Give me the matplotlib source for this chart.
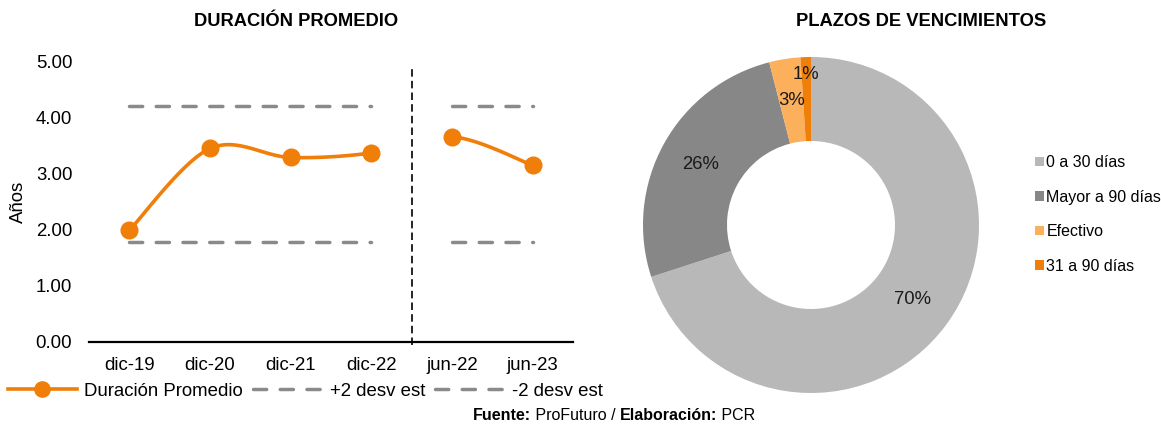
import numpy as np
import matplotlib
matplotlib.use('Agg')
import matplotlib.pyplot as plt
from matplotlib.lines import Line2D
from matplotlib.offsetbox import TextArea, HPacker, AnchoredOffsetbox

plt.rcParams['font.family'] = ['Liberation Sans', 'DejaVu Sans']

# ---------------- data ----------------
categories = ['dic-19', 'dic-20', 'dic-21', 'dic-22', 'jun-22', 'jun-23']
duracion = [1.99, 3.45, 3.29, 3.37, 3.66, 3.15]
mas_2desv = [4.20, 4.20, 4.20, 4.20, 4.20, 4.20]
menos_2desv = [1.78, 1.78, 1.78, 1.78, 1.78, 1.78]
y_ticks = [0, 1, 2, 3, 4, 5]
series_names = ['Duración Promedio', '+2 desv est', '-2 desv est']

donut_labels = ['0 a 30 días', 'Mayor a 90 días', 'Efectivo', '31 a 90 días']
donut_values = [70, 26, 3, 1]

# ---------------- styles ----------------
W, H = 1161, 425
ORANGE = '#F07F0A'
GRAY_DASH = '#8A8A8A'
donut_colors = ['#B8B8B8', '#878787', '#FDB05C', '#F07F0A']


def catmull_rom(xs, ys, n=40):
    P = np.column_stack([xs, ys]).astype(float)
    P = np.vstack([P[0], P, P[-1]])
    segs = []
    t = np.linspace(0, 1, n)[:, None]
    for i in range(1, len(P) - 2):
        p0, p1, p2, p3 = P[i - 1], P[i], P[i + 1], P[i + 2]
        c = 0.5 * ((2 * p1) + (-p0 + p2) * t
                   + (2 * p0 - 5 * p1 + 4 * p2 - p3) * t ** 2
                   + (-p0 + 3 * p1 - 3 * p2 + p3) * t ** 3)
        segs.append(c)
    return segs


fig = plt.figure(figsize=(W / 100, H / 100), dpi=100)

# ---------------- left chart ----------------
ax = fig.add_axes([89 / W, (H - 341.7) / H, 484 / W, 280 / H])
x = np.arange(len(categories))

groups = [(0, 4), (4, 6)]
dash_style = (0, (3.8, 3.9))
for vals in (mas_2desv, menos_2desv):
    for a, b in groups:
        ax.plot(x[a:b], vals[a:b], color=GRAY_DASH, lw=2.5, linestyle=dash_style,
                dash_capstyle='round', solid_capstyle='round')

segs = catmull_rom(x, duracion)
curve1 = np.vstack(segs[0:3])
curve2 = segs[4]
for c in (curve1, curve2):
    ax.plot(c[:, 0], c[:, 1], color=ORANGE, lw=2.6, solid_capstyle='round')
ax.plot(x, duracion, linestyle='none', marker='o', ms=12, color=ORANGE)

ax.vlines(3.5, -0.06, 4.94, colors='black', lw=1.2, linestyles=(0, (4.5, 2.5)),
          clip_on=False)

ax.set_xlim(-0.5, 5.5)
ax.set_ylim(0, 5)
ax.set_xticks(x)
ax.set_xticklabels(categories, fontsize=13.4)
ax.set_yticks(y_ticks)
ax.set_yticklabels([f'{v:.2f}' for v in y_ticks], fontsize=13.4)
ax.tick_params(length=0)
ax.tick_params(axis='y', pad=12)
ax.tick_params(axis='x', pad=11)
for s in ('top', 'right', 'left'):
    ax.spines[s].set_visible(False)
ax.spines['bottom'].set_linewidth(1.6)
ax.spines['bottom'].set_color('black')
ax.set_ylabel('Años', fontsize=13.4)
ax.yaxis.set_label_coords(-0.128, 0.5)

fig.text(296.5 / W, 1 - 22 / H, 'DURACIÓN PROMEDIO', ha='center', va='center',
         fontsize=13.2, fontweight='bold')

handles = [
    Line2D([], [], color=ORANGE, lw=2.6, marker='o', ms=11),
    Line2D([], [], color=GRAY_DASH, lw=2.5, linestyle=dash_style, dash_capstyle='round'),
    Line2D([], [], color=GRAY_DASH, lw=2.5, linestyle=dash_style, dash_capstyle='round'),
]
fig.legend(handles, series_names, loc='center left', bbox_to_anchor=(8 / W, 1 - 391 / H),
           ncol=3, frameon=False, fontsize=13.4, handlelength=3.7, handletextpad=0.4,
           columnspacing=0.55, borderpad=0, borderaxespad=0)

# ---------------- donut ----------------
R = 168
cx, cy = 811, 225
axd = fig.add_axes([(cx - R) / W, (H - cy - R) / H, 2 * R / W, 2 * R / H])
wedges, texts, autotexts = axd.pie(
    donut_values, colors=donut_colors, startangle=90, counterclock=False, radius=1,
    wedgeprops=dict(width=0.5, linewidth=0), autopct=lambda p: f'{p:.0f}%',
    pctdistance=0.75, textprops=dict(fontsize=13.3, color='#1A1A1A'))
axd.set_xlim(-1, 1)
axd.set_ylim(-1, 1)
w = wedges[3]
th = np.deg2rad((w.theta1 + w.theta2) / 2)
autotexts[3].set_position((0.895 * np.cos(th), 0.895 * np.sin(th)))

fig.text(921.5 / W, 1 - 22 / H, 'PLAZOS DE VENCIMIENTOS', ha='center', va='center',
         fontsize=13.2, fontweight='bold')

fig.legend(wedges, donut_labels, loc='center left', bbox_to_anchor=(1035 / W, 1 - 214.5 / H),
           frameon=False, fontsize=11.5, handlelength=0.56, handleheight=0.56,
           handletextpad=0.15, labelspacing=1.22, borderpad=0, borderaxespad=0)

# ---------------- footer ----------------
parts = [('Fuente:', 'bold'), (' ProFuturo / ', 'normal'), ('Elaboración:', 'bold'), (' PCR', 'normal')]
areas = [TextArea(t, textprops=dict(fontsize=11.5, fontweight=wt, color='black')) for t, wt in parts]
box = HPacker(children=areas, align='baseline', pad=0, sep=0)
anch = AnchoredOffsetbox(loc='center', child=box, pad=0, borderpad=0, frameon=False,
                         bbox_to_anchor=(614 / W, 1 - 416 / H), bbox_transform=fig.transFigure)
fig.add_artist(anch)

fig.savefig('out.png', dpi=100)
